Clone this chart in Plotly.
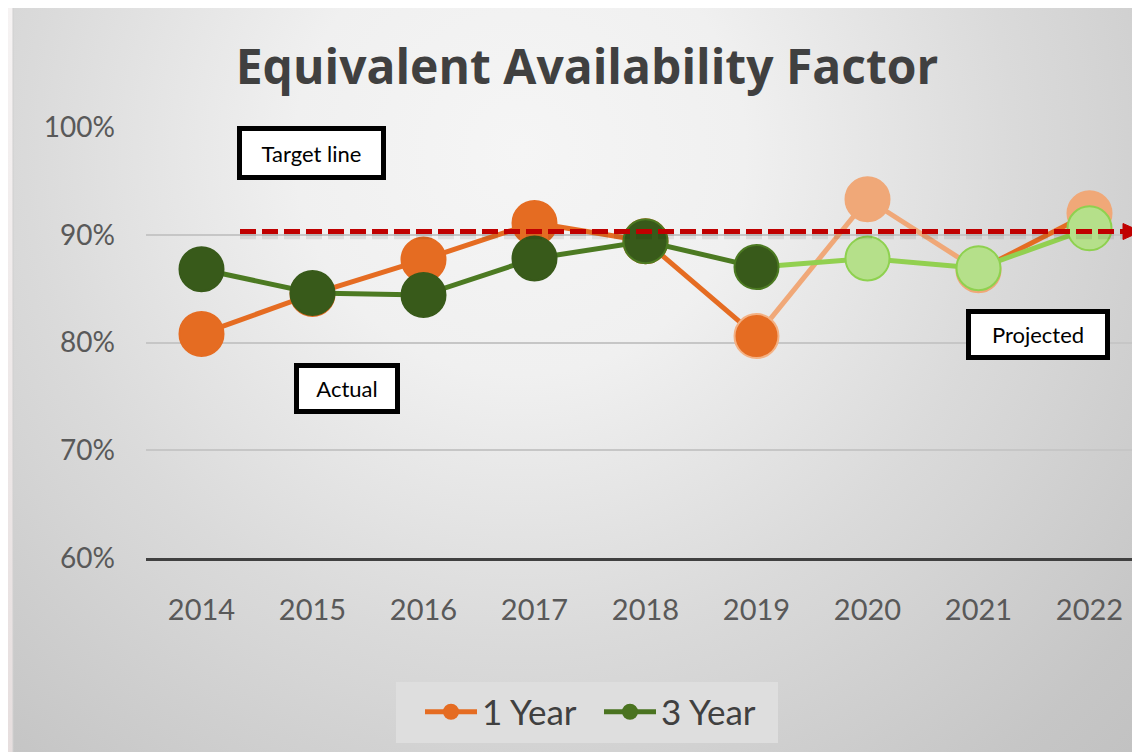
import base64
import plotly.graph_objects as go

# ---------------- data ----------------
years = ["2014", "2015", "2016", "2017", "2018", "2019", "2020", "2021", "2022"]
one_year = [0.808, 0.845, 0.877, 0.911, 0.894, 0.806, 0.933, 0.867, 0.920]
three_year = [0.868, 0.846, 0.844, 0.878, 0.894, 0.870, 0.878, 0.869, 0.906]
last_actual = 5          # index of 2019, last actual year
target = 0.903
y_ticks = [0.6, 0.7, 0.8, 0.9, 1.0]

# ---------------- styles ----------------
OR = "#E56C22"
OR_L = "#F0A878"
GR_M = "#385A1A"
GR_LINE = "#4C7A22"
GR_L = "#B5E08A"
GR_L_EDGE = "#8ED14F"
GR_L_LINE = "#92D050"
MS = 44
FONT = "Lato, Open Sans"

OFF = 8                  # page offset of the figure inside the window
W, H = 1140, 752
L = 146 - OFF
T = 127 - OFF
B = H - (558 - OFF)
R = W - (1145 - OFF)
pw = W - L - R
ph = H - T - B

def px_x(p):             # reference window px -> paper x
    return (p - OFF - L) / pw

def px_y(p):             # reference window px -> paper y
    return (H - B - (p - OFF)) / ph

svg = f'''<svg xmlns="http://www.w3.org/2000/svg" width="{W}" height="{H}" viewBox="0 0 {W} {H}">
<defs>
<radialGradient id="g" gradientUnits="userSpaceOnUse" cx="{520-OFF}" cy="{150-OFF}" r="900">
<stop offset="0" stop-color="#f5f5f5"/>
<stop offset="0.25" stop-color="#f0f0f0"/>
<stop offset="0.55" stop-color="#dadada"/>
<stop offset="0.63" stop-color="#d5d5d5"/>
<stop offset="0.72" stop-color="#cfcfcf"/>
<stop offset="0.86" stop-color="#c6c6c6"/>
<stop offset="1" stop-color="#c0c0c0"/>
</radialGradient>
<linearGradient id="o" x1="0" y1="0" x2="0" y2="1">
<stop offset="0" stop-color="#f6f3f3"/>
<stop offset="1" stop-color="#e6dede"/>
</linearGradient>
</defs>
<rect x="0" y="0" width="{W}" height="{H}" fill="url(#o)"/>
<rect x="{13-OFF}" y="{5-OFF}" width="{W}" height="{H+10}" fill="url(#g)" stroke="#cfcfcf" stroke-width="1"/>
</svg>'''
svg_uri = "data:image/svg+xml;base64," + base64.b64encode(svg.encode()).decode()

fig = go.Figure()

def seg(xs, ys, color):
    fig.add_trace(go.Scatter(x=xs, y=ys, mode="lines", line=dict(color=color, width=5),
                             showlegend=False, hoverinfo="skip"))

n = len(years)
# 1 Year lines
seg(years[:last_actual + 1], one_year[:last_actual + 1], OR)
seg(years[last_actual:n - 1], one_year[last_actual:n - 1], OR_L)
seg(years[n - 2:], one_year[n - 2:], OR)
# 1 Year markers
or_fill = [OR] * (last_actual + 1) + [OR_L] * (n - last_actual - 1)
or_edge = [OR] * last_actual + ["#F4B183"] + [OR_L] * (n - last_actual - 1)
fig.add_trace(go.Scatter(x=years, y=one_year, mode="markers",
                         marker=dict(size=MS, color=or_fill, line=dict(color=or_edge, width=2)),
                         showlegend=False))
# 3 Year lines
seg(years[:last_actual + 1], three_year[:last_actual + 1], GR_LINE)
seg(years[last_actual:], three_year[last_actual:], GR_L_LINE)
gr_fill = [GR_M] * (last_actual + 1) + [GR_L] * (n - last_actual - 1)
gr_edge = [GR_M] * 4 + [GR_LINE] * 2 + [GR_L_EDGE] * (n - last_actual - 1)
fig.add_trace(go.Scatter(x=years, y=three_year, mode="markers",
                         marker=dict(size=MS, color=gr_fill, line=dict(color=gr_edge, width=2)),
                         showlegend=False))

# legend-only traces
fig.add_trace(go.Scatter(x=[None], y=[None], mode="lines+markers", name="1 Year",
                         line=dict(color=OR, width=5), marker=dict(size=20, color=OR)))
fig.add_trace(go.Scatter(x=[None], y=[None], mode="lines+markers", name="3 Year",
                         line=dict(color="#4A7320", width=5), marker=dict(size=20, color="#4A7320")))

# legend box background
fig.add_shape(type="rect", xref="paper", yref="paper", x0=px_x(396), x1=px_x(778),
              y0=px_y(743), y1=px_y(682), fillcolor="#dedede", line=dict(width=0), layer="below")

# target line shadow + dashed line + arrowhead
x0p, x1p = px_x(240), px_x(1126)
fig.add_shape(type="line", xref="paper", yref="y", x0=x0p, x1=x1p, y0=target - 0.004, y1=target - 0.004,
              line=dict(color="rgba(0,0,0,0.08)", width=7, dash="16px,6px"), layer="above")
fig.add_shape(type="line", xref="paper", yref="y", x0=x0p, x1=x1p, y0=target, y1=target,
              line=dict(color="#C00000", width=5, dash="16px,6px"), layer="above")
dy = 8 * 0.4 / ph
fig.add_shape(type="path", xref="paper", yref="y",
              path=f"M {px_x(1123)},{target + dy} L {px_x(1141)},{target} L {px_x(1123)},{target - dy} Z",
              fillcolor="#C00000", line=dict(color="#C00000", width=1), layer="above")

def box(text, cx, cy, w, h):
    fig.add_annotation(text=text, xref="paper", yref="paper",
                       x=px_x(cx), y=px_y(cy), xanchor="center", yanchor="middle",
                       showarrow=False, width=w - 10, height=h - 10,
                       bgcolor="white", bordercolor="black", borderwidth=5, borderpad=0,
                       font=dict(family=FONT, size=22, color="black"))

box("Target line", 311.5, 152.5, 149, 54)
box("Actual", 347, 388, 106, 51)
box("Projected", 1038, 334.5, 144, 51)

fig.update_layout(
    width=W, height=H,
    margin=dict(l=L, r=R, t=T, b=B),
    paper_bgcolor="#efeaea",
    plot_bgcolor="rgba(0,0,0,0)",
    images=[dict(source=svg_uri, xref="paper", yref="paper", x=-L / pw, y=1 + T / ph,
                 sizex=W / pw, sizey=H / ph, xanchor="left", yanchor="top",
                 sizing="stretch", layer="below")],
    title=dict(text="<b>Equivalent Availability Factor</b>", x=(587 - OFF) / W, xanchor="center",
               y=1 - (67 - OFF) / H, yanchor="middle", yref="container",
               font=dict(family="Open Sans", size=48, color="#404040")),
    xaxis=dict(type="category", categoryorder="array", categoryarray=years,
               range=[-0.5, len(years) - 0.5], showgrid=False, zeroline=False,
               showline=True, linecolor="#404040", linewidth=3,
               ticks="", ticklabelstandoff=24,
               tickfont=dict(family=FONT, size=29, color="#595959")),
    yaxis=dict(range=[0.6, 1.0], tickvals=y_ticks, tickformat=".0%",
               showgrid=True, gridcolor="#c6c6c6", gridwidth=1.5, zeroline=False,
               showline=False, ticks="", ticklabelstandoff=30,
               tickfont=dict(family=FONT, size=28, color="#595959")),
    legend=dict(orientation="h", x=px_x(420), y=px_y(712), xanchor="left", yanchor="middle",
                bgcolor="rgba(0,0,0,0)", itemwidth=52, itemsizing="trace",
                entrywidth=112, entrywidthmode="pixels",
                font=dict(family=FONT, size=35, color="#404040")),
    showlegend=True,
)

fig.write_html("out.html")
